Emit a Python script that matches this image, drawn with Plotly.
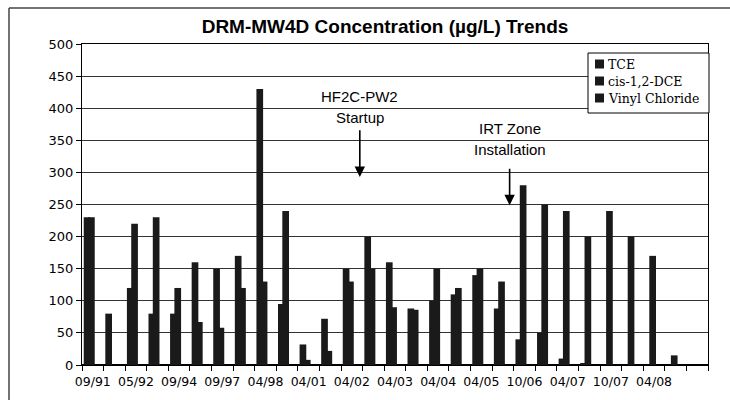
import plotly.graph_objects as go

# Sampling events (one group of bars per event); only every other event is labelled
event_index = list(range(29))
tick_positions = [0, 2, 4, 6, 8, 10, 12, 14, 16, 18, 20, 22, 24, 26]
tick_labels = ["09/91", "05/92", "09/94", "09/97", "04/98", "04/01", "04/02",
               "04/03", "04/04", "04/05", "10/06", "04/07", "10/07", "04/08"]

series_names = ["TCE", "cis-1,2-DCE", "Vinyl Chloride"]

tce = [230, 80, 120, 80, 80, 160, 150, 170, 430, 95, 32, 72, 150, 200, 160,
       88, 100, 110, 140, 88, 40, 50, 10, 3, 0, 0, 0, 0, 0]
cis_dce = [230, 0, 220, 230, 120, 67, 58, 120, 130, 240, 8, 22, 130, 150, 90,
           86, 150, 120, 150, 130, 280, 250, 240, 200, 240, 200, 170, 15, 0]
vinyl_chloride = [0] * 29

series_values = [tce, cis_dce, vinyl_chloride]

BAR = "#1a1a1a"
L, R, T, B = 82, 22, 44, 35
W, H = 730, 400
PW, PH = W - L - R, H - T - B

# clustered columns with a slight series overlap
BAR_WIDTH = 0.31
BAR_OFFSETS = [-0.42, -0.22, -0.02]


def px(x):
    return (x - L) / PW


def py(y):
    return (H - B - y) / PH


fig = go.Figure()
for name, vals, off in zip(series_names, series_values, BAR_OFFSETS):
    fig.add_trace(go.Bar(x=event_index, y=vals, name=name,
                         width=BAR_WIDTH, offset=off,
                         marker=dict(color=BAR, line=dict(width=0)),
                         showlegend=False))

shapes = []
annotations = []

# legend box drawn by hand (compact, serif)
shapes.append(dict(type="rect", xref="paper", yref="paper",
                   x0=px(588), x1=px(709), y0=py(113), y1=py(53),
                   line=dict(color="black", width=1), fillcolor="white"))
for i, name in enumerate(series_names):
    cy = 64 + i * 17
    shapes.append(dict(type="rect", xref="paper", yref="paper",
                       x0=px(595), x1=px(604), y0=py(cy + 4.5), y1=py(cy - 4.5),
                       line=dict(width=0), fillcolor=BAR))
    annotations.append(dict(xref="paper", yref="paper", x=px(606), y=py(cy),
                            xanchor="left", yanchor="middle", showarrow=False,
                            text=name,
                            font=dict(family="DejaVu Serif", size=12.5, color="black")))

# outer frame of the chart
shapes.append(dict(type="line", xref="paper", yref="paper",
                   x0=px(9), x1=px(9), y0=py(400), y1=py(8),
                   line=dict(color="#444", width=1.5)))
shapes.append(dict(type="line", xref="paper", yref="paper",
                   x0=px(9), x1=px(730), y0=py(8), y1=py(8),
                   line=dict(color="#444", width=1.5)))

# event notes with arrows
note_font = dict(family="Liberation Sans", size=15, color="black")
notes = [
    (12.37, ["HF2C-PW2", "Startup"], [419, 386], 368, 293),
    (19.31, ["IRT Zone", "Installation"], [368, 335], 308, 249),
]
for xpos, lines, ys, tail, tip in notes:
    for txt, yv in zip(lines, ys):
        annotations.append(dict(x=xpos, y=yv, xref="x", yref="y", text=txt,
                                showarrow=False, font=note_font))
    annotations.append(dict(x=xpos, y=tip, xref="x", yref="y", text="",
                            showarrow=True, axref="x", ayref="y", ax=xpos, ay=tail,
                            arrowhead=2, arrowsize=1.3, arrowwidth=1.6,
                            arrowcolor="black"))

fig.update_layout(
    width=W, height=H,
    margin=dict(l=L, r=R, t=T, b=B),
    paper_bgcolor="white", plot_bgcolor="white",
    barmode="overlay",
    title=dict(text="DRM-MW4D Concentration (µg/L) Trends",
               x=385 / W, xanchor="center", y=1 - 26 / H, yanchor="middle",
               font=dict(family="Liberation Sans", size=19, color="black",
                         weight="bold")),
    shapes=shapes, annotations=annotations,
    xaxis=dict(range=[-0.5, 28.5], tickmode="array", tickvals=tick_positions,
               ticktext=tick_labels, ticks="outside", ticklen=5,
               tickcolor="rgba(0,0,0,0)",
               minor=dict(tick0=-0.5, dtick=1, ticks="outside", ticklen=5,
                          tickcolor="black", showgrid=False),
               showline=True, linecolor="black", linewidth=1, mirror=True,
               showgrid=False, zeroline=False,
               tickfont=dict(family="DejaVu Sans", size=12.5, color="black")),
    yaxis=dict(range=[0, 500], dtick=50, ticks="outside", ticklen=5,
               tickcolor="black", showline=True, linecolor="black", linewidth=1,
               mirror=True, showgrid=True, gridcolor="#333", gridwidth=1,
               zeroline=True, zerolinecolor="black", zerolinewidth=2,
               tickfont=dict(family="DejaVu Sans", size=13, color="black")),
)

fig.write_html("out.html")
